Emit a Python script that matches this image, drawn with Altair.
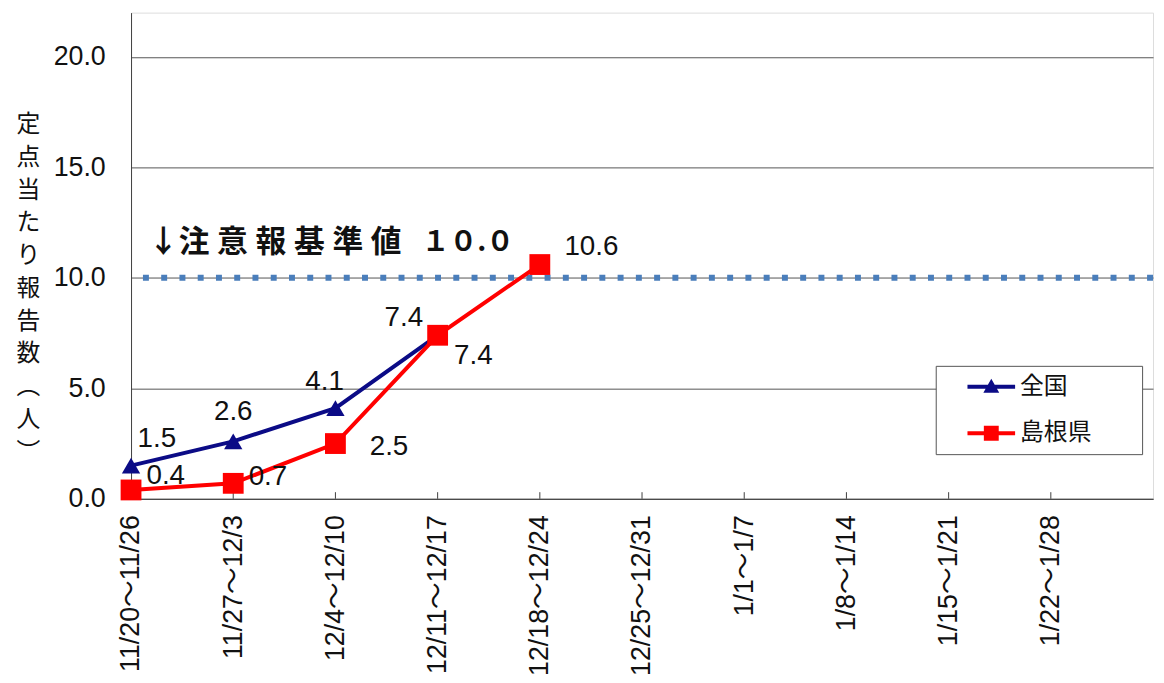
import json
import altair as alt
import pandas as pd

# ---- data ----
weeks = ["11/20～11/26", "11/27～12/3", "12/4～12/10", "12/11～12/17", "12/18～12/24",
         "12/25～12/31", "1/1～1/7", "1/8～1/14", "1/15～1/21", "1/22～1/28"]
series_names = ["全国", "島根県"]
national = [1.5, 2.6, 4.1, 7.4]
shimane = [0.4, 0.7, 2.5, 7.4, 10.6]
threshold = [10.0]
threshold_label = "↓注\u2005意\u2005報\u2005基\u2005準\u2005値"
threshold_value = "１０.０"
y_ticks = [0, 5, 10, 15, 20]
y_title = list("定点当たり報告数") + ["︵", "人", "︶"]

# label offsets (pixels)
nat_dx = [26, 0, -11, -34]
nat_dy = [-27, -30, -26, -17]
shi_dx = [35, 35, 54, 36, 52]
shi_dy = [-14, -6, 4, 21, -18]

colors = {"全国": "#0b0b86", "島根県": "#ff0000"}
NUM_FONT = "Liberation Sans, Arial, 'Noto Sans CJK JP'"
JP_FONT = "'Noto Sans CJK JP', 'Noto Sans CJK SC', sans-serif"

rows = []
for i, v in enumerate(national):
    rows.append({"idx": i, "value": v, "series": "全国", "label": f"{v:.1f}"})
for i, v in enumerate(shimane):
    rows.append({"idx": i, "value": v, "series": "島根県", "label": f"{v:.1f}"})
df = pd.DataFrame(rows)
df_thr = pd.DataFrame({"value": threshold, "idx": [0]})
df_ticks = pd.DataFrame({"idx": list(range(1, len(weeks)))})

xscale = alt.Scale(domain=[0, len(weeks)], nice=False, zero=False)
yscale = alt.Scale(domain=[0, 22], nice=False)

label_expr = json.dumps(weeks) + "[datum.value]"

x_enc = alt.X("idx:Q", scale=xscale, axis=alt.Axis(
    values=list(range(len(weeks))), labelExpr=label_expr, labelAngle=-90,
    labelAlign="right", labelBaseline="middle", labelFont=NUM_FONT, labelFontSize=27,
    labelColor="#111", labelPadding=16, ticks=False, grid=False, domainColor="#404040",
    title=None, labelOverlap=False, labelFlush=False))
y_enc = alt.Y("value:Q", scale=yscale, axis=alt.Axis(
    values=y_ticks, format=".1f", labelFont=NUM_FONT, labelFontSize=27, labelColor="#111",
    labelPadding=26, ticks=False, grid=True, gridColor="#555555", gridWidth=1,
    domainColor="#404040", title=y_title, titleAngle=0, titleAlign="center",
    titleBaseline="top", titleX=-104, titleY=101, titleLineHeight=33, titleFont=JP_FONT,
    titleFontSize=24, titleFontWeight="normal", titleColor="#111"))

base = alt.Chart(df)

ticks = alt.Chart(df_ticks).mark_rule(color="#404040", strokeWidth=1).encode(
    x=alt.X("idx:Q", scale=xscale), y=alt.datum(0), y2=alt.datum(0.3))

thr_rule = alt.Chart(df_thr).mark_rule(color="#4a7ebb", strokeWidth=6, strokeDash=[6, 12.4]).encode(
    y=alt.Y("value:Q", scale=yscale))
thr_text = alt.Chart(df_thr).mark_text(
    text=threshold_label, align="left", baseline="middle", dx=17, dy=-35,
    font=JP_FONT, fontSize=31, fontWeight="bold", color="#111").encode(
    x=alt.X("idx:Q", scale=xscale), y=alt.Y("value:Q", scale=yscale))
thr_num = alt.Chart(df_thr).mark_text(
    text=threshold_value, align="left", baseline="middle", dx=293, dy=-35,
    font=JP_FONT, fontSize=28, fontWeight="bold", color="#111").encode(
    x=alt.X("idx:Q", scale=xscale), y=alt.Y("value:Q", scale=yscale))

layers = [ticks, thr_rule, thr_text, thr_num]
marker = {"全国": ("triangle-up", 340), "島根県": ("square", 440)}
offsets = {"全国": (nat_dx, nat_dy), "島根県": (shi_dx, shi_dy)}
for s in series_names:
    sub = base.transform_filter(alt.datum.series == s)
    layers.append(sub.mark_line(color=colors[s], strokeWidth=4).encode(x=x_enc, y=y_enc))
for s in series_names:
    sub = base.transform_filter(alt.datum.series == s)
    shp, sz = marker[s]
    layers.append(sub.mark_point(shape=shp, size=sz, filled=True, opacity=1, color=colors[s]).encode(
        x=alt.X("idx:Q", scale=xscale), y=alt.Y("value:Q", scale=yscale)))
for s in series_names:
    dxs, dys = offsets[s]
    for i in range(len(dxs)):
        sub = base.transform_filter((alt.datum.series == s) & (alt.datum.idx == i))
        layers.append(sub.mark_text(dx=dxs[i], dy=dys[i], font=NUM_FONT, fontSize=28,
                                    color="#111", align="center", baseline="middle").encode(
            x=alt.X("idx:Q", scale=xscale), y=alt.Y("value:Q", scale=yscale), text="label:N"))

path_tri = "M-2.4,-0.2H2.4V0.2H-2.4Z M0,-0.8L0.8,0.6L-0.8,0.6Z"
path_sq = "M-2.4,-0.2H2.4V0.2H-2.4Z M-0.75,-0.75H0.75V0.75H-0.75Z"
legend = alt.Legend(orient="none", legendX=811, legendY=356, title=None, fillColor="white",
                    strokeColor="#555", padding=9, rowPadding=23, symbolSize=400,
                    symbolOffset=35, labelOffset=17, labelFont=JP_FONT, labelFontSize=24,
                    labelColor="#111", symbolStrokeWidth=0,
                    labelExpr="datum.label + '　\u2800'")
dummy = base.transform_filter("false").mark_point(filled=True, opacity=1).encode(
    x=alt.X("idx:Q", scale=xscale), y=alt.Y("value:Q", scale=yscale),
    color=alt.Color("series:N", scale=alt.Scale(domain=series_names,
                                                range=[colors[s] for s in series_names]), legend=legend),
    shape=alt.Shape("series:N", scale=alt.Scale(domain=series_names, range=[path_tri, path_sq]),
                    legend=legend))
layers.append(dummy)

chart = alt.layer(*layers).properties(
    width=1030, height=490,
    padding={"left": 8, "top": 2, "right": 0, "bottom": 5}
).configure_view(stroke="#404040", strokeWidth=1).configure(background="white")

chart.save("out.html", embed_options={"renderer": "svg", "actions": False})
